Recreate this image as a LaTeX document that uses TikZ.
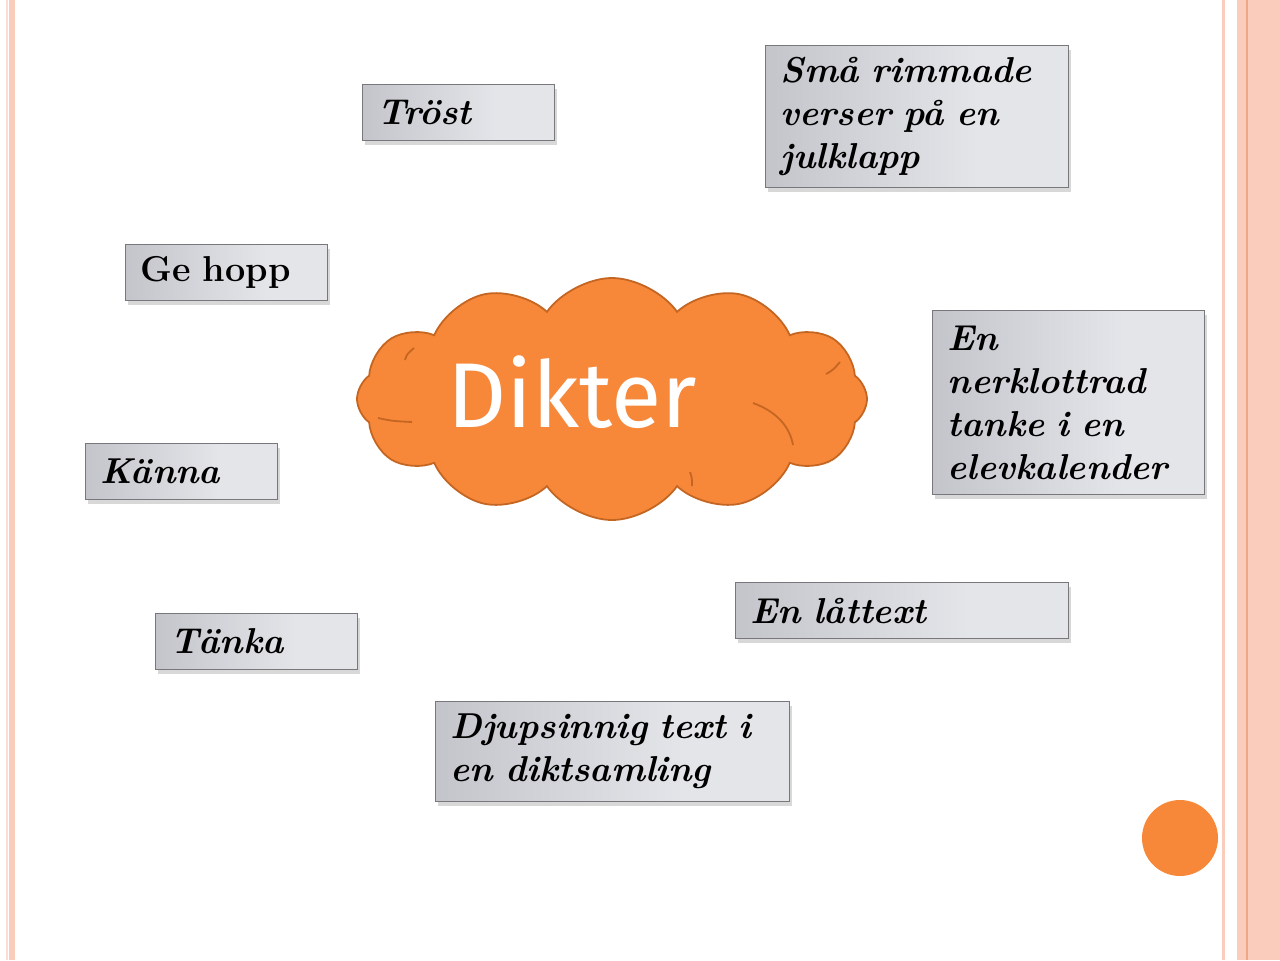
\documentclass[tikz,border=0pt]{standalone}
\usepackage{fontspec}
\newfontfamily\cloudfont{Fira Sans}
\usepackage{tikz}
\usetikzlibrary{shapes.symbols,shadows}
\definecolor{dikorange}{RGB}{247,136,58}
\definecolor{dikline}{RGB}{196,102,34}
\definecolor{pinkband}{RGB}{249,204,188}
\definecolor{pinkline}{RGB}{236,168,134}
\definecolor{paleline}{RGB}{250,222,212}
\definecolor{boxdark}{RGB}{172,174,181}
\definecolor{boxlight}{RGB}{228,229,233}
\definecolor{boxmid}{RGB}{210,211,216}
\definecolor{boxedge}{RGB}{120,120,124}
\pgfdeclarehorizontalshading{cardshade}{100bp}{color(0bp)=(boxdark);
  color(60bp)=(boxlight); color(85bp)=(boxlight); color(100bp)=(boxmid)}

\begin{document}
\begin{tikzpicture}[x=0.5pt,y=0.5pt,yscale=-1,xscale=1,
    card/.style 2 args={draw=boxedge, line width=0.6pt, shading=cardshade,
      drop shadow={opacity=0.3, shadow xshift=1pt, shadow yshift=-2pt},
      anchor=north west, align=left, inner xsep=7.5pt, inner ysep=2pt,
      text width=#1, minimum height=#2,
      font=\fontsize{18}{21.5}\selectfont\bfseries\itshape},
    puff/.style={draw=dikline, line width=0.9pt}]
        \useasboundingbox (0,0) rectangle (1280,960);
        \fill[white] (0,0) rectangle (1280,960);

        \draw[paleline, line width=0.8pt] (7,0) -- (7,960);
        \fill[pinkband] (9,0) rectangle (15,960);
        \fill[pinkband] (1222,0) rectangle (1225,960);
        \fill[pinkband] (1237,0) rectangle (1280,960);
        \draw[pinkline, line width=0.8pt] (1247,0) -- (1247,960);

        \node[cloud, cloud puffs=12, cloud puff arc=110, aspect=2.1, minimum width=255pt, minimum height=121pt,
          fill=dikorange, draw=dikline, line width=0.9pt] (cloud) at (612,399) {};
        \draw[puff] (378,418) .. controls (392,421) .. (412,422);
        \draw[puff] (753,403) .. controls (778,412) and (790,428) .. (793,445);
        \draw[puff] (690,472) .. controls (692,478) .. (692,486);
        \draw[puff] (405,360) .. controls (407,354) .. (414,348);
        \draw[puff] (826,374) .. controls (833,370) .. (840,362);
        \node[text=white, font=\cloudfont\fontsize{46}{46}\selectfont] (dikter) at (572,392) {Dikter};

        \node[card={81pt}{28pt}] (trost) at (362,84) {Tröst};
        \node[card={136.5pt}{71pt}] (rim) at (765,45) {Små rimmade\\verser på en\\julklapp};
        \node[card={86pt}{28pt}, font=\fontsize{18}{21.5}\selectfont\bfseries\upshape] (hopp) at (125,244) {Ge hopp};
        \node[card={121pt}{92pt}] (tanke) at (932,310) {En\\nerklottrad\\tanke i en\\elevkalender};
        \node[card={81pt}{28pt}] (kanna) at (85,443) {Känna};
        \node[card={151.5pt}{28pt}] (lattext) at (735,582) {En låttext};
        \node[card={86pt}{28pt}] (tanka) at (155,613) {Tänka};
        \node[card={162pt}{50pt}] (djup) at (435,701) {Djupsinnig text i\\en diktsamling};

        \node[circle, fill=dikorange, minimum size=38pt, inner sep=0pt] (dot) at (1180,838) {};
\end{tikzpicture}
\end{document}
